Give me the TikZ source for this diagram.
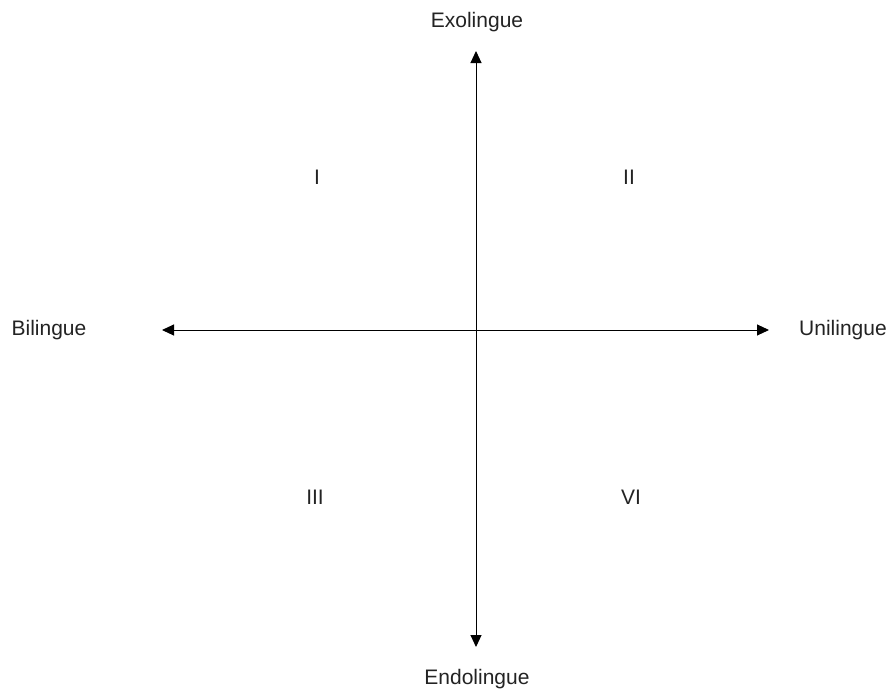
\documentclass[tikz,border=0pt]{standalone}
\usepackage{fontspec}
\setmainfont{Liberation Sans}
\usetikzlibrary{arrows.meta}

\definecolor{txtgray}{RGB}{35,35,35}

\tikzset{
    axis/.style={line width=1pt, {Triangle[length=12pt,width=11pt]}-{Triangle[length=12pt,width=11pt]}},
    lbl/.style={font=\fontsize{21}{25}\selectfont, text=txtgray, inner sep=0pt}
}

\begin{document}
\begin{tikzpicture}[x=1pt,y=-1pt]
    \useasboundingbox (0,0) rectangle (890,696);
    % axes
    \coordinate (north) at (476,51);
    \coordinate (south) at (476,647);
    \coordinate (west) at (162,330);
    \coordinate (east) at (769,330);
    \draw[axis] (south) -- (north);
    \draw[axis] (west) -- (east);
    % axis labels
    \node[lbl] (exo) at (477,22) {Exolingue};
    \node[lbl] (endo) at (477,679) {Endolingue};
    \node[lbl] (bi) at (49,330) {Bilingue};
    \node[lbl] (uni) at (843,330) {Unilingue};
    % quadrants
    \node[lbl] (q1) at (317,177) {I};
    \node[lbl] (q2) at (629,177) {II};
    \node[lbl] (q3) at (315,497) {III};
    \node[lbl] (q4) at (631,497) {VI};
\end{tikzpicture}
\end{document}
